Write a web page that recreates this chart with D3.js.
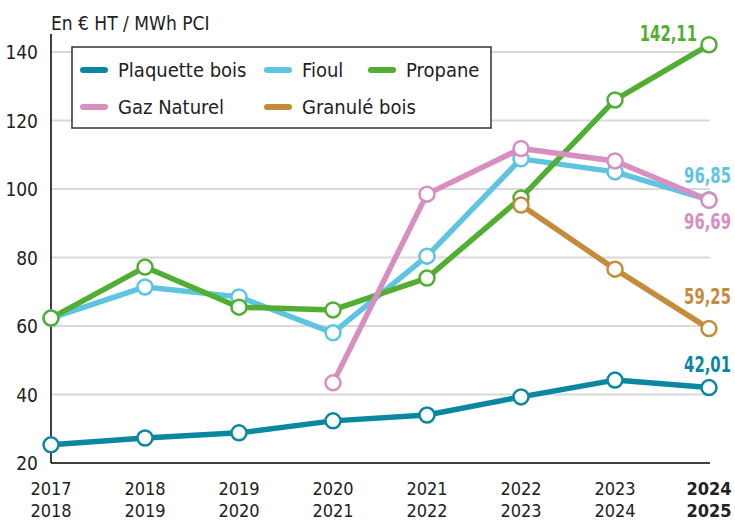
<!DOCTYPE html>
<html>
<head>
<meta charset="utf-8">
<script src="https://cdn.jsdelivr.net/npm/d3@7"></script>
<style>
  body { margin: 0; background: #fff; }
  text { font-family: "Liberation Sans Narrow", "DejaVu Sans Condensed", sans-serif; }
</style>
</head>
<body>
<div id="chart"></div>
<script>
// data
var years = ["2017", "2018", "2019", "2020", "2021", "2022", "2023", "2024"];
var years2 = ["2018", "2019", "2020", "2021", "2022", "2023", "2024", "2025"];
var plaquette = [25.3, 27.3, 28.8, 32.3, 34.0, 39.3, 44.2, 42.01];
var fioul = [62.3, 71.4, 68.5, 58.0, 80.4, 108.8, 105.0, 96.85];
var propane = [62.3, 77.2, 65.5, 64.7, 74.0, 97.4, 126.0, 142.11];
var gaz = [null, null, null, 43.4, 98.5, 111.8, 108.2, 96.69];
var granule = [null, null, null, null, null, 95.3, 76.6, 59.25];
var yTicks = [20, 40, 60, 80, 100, 120, 140];

// label offsets: lx = right edge of the end label, dy = shift from the last point
var series = [
  {name: "Fioul", values: fioul, color: "#5ec4e2", label: "96,85", lx: 731, dy: -17},
  {name: "Propane", values: propane, color: "#51ae33", label: "142,11", lx: 697, dy: -4},
  {name: "Gaz Naturel", values: gaz, color: "#d98ec0", label: "96,69", lx: 731, dy: 29},
  {name: "Granulé bois", values: granule, color: "#c58b3b", label: "59,25", lx: 731, dy: -25},
  {name: "Plaquette bois", values: plaquette, color: "#0b87a1", label: "42,01", lx: 731, dy: -16}
];
var legendItems = [
  {name: "Plaquette bois", color: "#0b87a1", x: 83, y: 70},
  {name: "Fioul", color: "#5ec4e2", x: 267, y: 70},
  {name: "Propane", color: "#51ae33", x: 371, y: 70},
  {name: "Gaz Naturel", color: "#d98ec0", x: 83, y: 107},
  {name: "Granulé bois", color: "#c58b3b", x: 267, y: 107}
];

var W = 735, H = 522;
var plotLeft = 51, plotRight = 709, plotTop = 52, plotBottom = 463;

var x = d3.scalePoint().domain(years).range([plotLeft, plotRight]);
var y = d3.scaleLinear().domain([20, 140]).range([plotBottom, plotTop]);

var svg = d3.select("#chart").append("svg")
  .attr("width", W).attr("height", H);

// grid lines
svg.append("g").selectAll("line")
  .data(yTicks.slice(1))
  .enter().append("line")
  .attr("x1", plotLeft).attr("x2", 710)
  .attr("y1", function(d) { return y(d); })
  .attr("y2", function(d) { return y(d); })
  .style("stroke", "#d9d9d9").style("stroke-width", 2);

// y axis
var yAxis = d3.axisLeft(y).tickValues(yTicks).tickSize(0).tickPadding(13);
var gy = svg.append("g").attr("transform", "translate(" + plotLeft + ",0)").call(yAxis);
gy.select(".domain").attr("d", "M0," + (plotTop - 18) + "V" + plotBottom).style("stroke", "#000").style("stroke-width", 1.5);
gy.selectAll("text").style("font-size", "19px").style("fill", "#222").style("font-family", null).attr("dy", "0.35em");

// x axis
svg.append("line")
  .attr("x1", plotLeft).attr("x2", 710).attr("y1", plotBottom).attr("y2", plotBottom)
  .style("stroke", "#000").style("stroke-width", 1.5);

var xl = svg.append("g").selectAll("text")
  .data(years)
  .enter().append("text")
  .attr("x", function(d) { return x(d); })
  .attr("y", 495)
  .attr("text-anchor", "middle")
  .style("font-size", "18px")
  .style("fill", "#222")
  .style("font-weight", function(d, i) { return i == years.length - 1 ? "bold" : "normal"; });
xl.append("tspan").text(function(d) { return d; });
xl.append("tspan")
  .attr("x", function(d) { return x(d); })
  .attr("dy", 22)
  .text(function(d, i) { return years2[i]; });

// unit label
svg.append("text")
  .attr("x", 51).attr("y", 30)
  .style("font-size", "19px").style("fill", "#222")
  .text("En € HT / MWh PCI");

// lines
var line = d3.line()
  .defined(function(d) { return d != null; })
  .x(function(d, i) { return x(years[i]); })
  .y(function(d) { return y(d); });

series.forEach(function(s) {
  svg.append("path")
    .datum(s.values)
    .attr("d", line)
    .style("fill", "none")
    .style("stroke", s.color)
    .style("stroke-width", 5.5)
    .style("stroke-linejoin", "round");
});

series.forEach(function(s) {
  svg.append("g").selectAll("circle")
    .data(s.values.map(function(v, i) { return {v: v, i: i}; }).filter(function(d) { return d.v != null; }))
    .enter().append("circle")
    .attr("cx", function(d) { return x(years[d.i]); })
    .attr("cy", function(d) { return y(d.v); })
    .attr("r", 7.5)
    .style("fill", "#fff")
    .style("stroke", s.color)
    .style("stroke-width", 2.5);

  // end value label, squeezed horizontally to mimic a condensed bold face
  var last = s.values[s.values.length - 1];
  svg.append("text")
    .attr("transform", "translate(" + s.lx + "," + (y(last) + s.dy) + ") scale(0.75,1)")
    .attr("text-anchor", "end")
    .style("font-size", "22px")
    .style("font-weight", "bold")
    .style("fill", s.color)
    .text(s.label);
});

// legend
svg.append("rect")
  .attr("x", 72).attr("y", 47).attr("width", 419).attr("height", 81)
  .style("fill", "#fff").style("stroke", "#333").style("stroke-width", 1.5);

var lg = svg.append("g").selectAll("g")
  .data(legendItems)
  .enter().append("g");
lg.append("line")
  .attr("x1", function(d) { return d.x; })
  .attr("x2", function(d) { return d.x + 22; })
  .attr("y1", function(d) { return d.y; })
  .attr("y2", function(d) { return d.y; })
  .style("stroke", function(d) { return d.color; })
  .style("stroke-width", 6)
  .style("stroke-linecap", "round");
lg.append("text")
  .attr("x", function(d) { return d.x + 35; })
  .attr("y", function(d) { return d.y; })
  .attr("dy", "0.35em")
  .style("font-size", "20px")
  .style("fill", "#222")
  .text(function(d) { return d.name; });
</script>
</body>
</html>
